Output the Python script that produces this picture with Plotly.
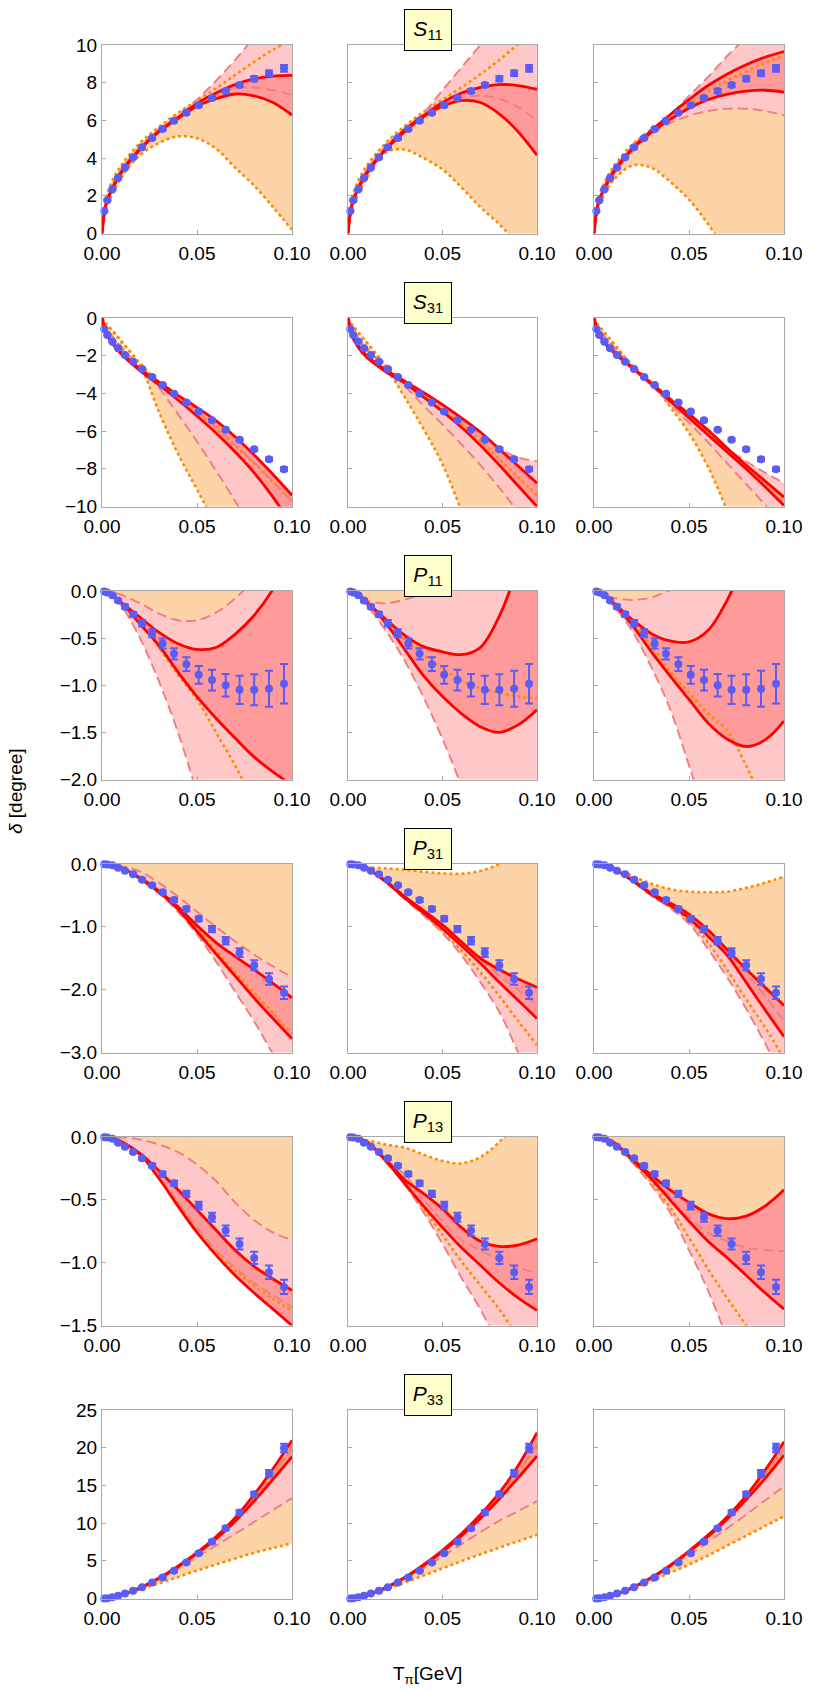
import plotly.graph_objects as go

# ---------------- data ----------------
X_GRID = [0, 0.002, 0.005, 0.01, 0.02, 0.03, 0.04, 0.05, 0.06, 0.07, 0.08, 0.09, 0.1]
X_DATA = [0.0012, 0.0028, 0.0055, 0.0085, 0.0121, 0.0164, 0.0211, 0.0264, 0.0319,
          0.0379, 0.0444, 0.0509, 0.0579, 0.0651, 0.0724, 0.0801, 0.0879, 0.0958]

WAVES = ["S11", "S31", "P11", "P31", "P13", "P33"]
WAVE_LABELS = ["<i>S</i><sub>11</sub>", "<i>S</i><sub>31</sub>", "<i>P</i><sub>11</sub>",
               "<i>P</i><sub>31</sub>", "<i>P</i><sub>13</sub>", "<i>P</i><sub>33</sub>"]
Y_RANGES = [[0, 10], [-10, 0], [-2, 0], [-3, 0], [-1.5, 0], [0, 25]]
Y_TICKS = [[0, 2, 4, 6, 8, 10], [0, -2, -4, -6, -8, -10], [0, -0.5, -1, -1.5, -2],
           [0, -1, -2, -3], [0, -0.5, -1, -1.5], [0, 5, 10, 15, 20, 25]]
Y_FORMATS = ["d", "d", ".1f", ".1f", ".1f", "d"]
X_TICKS = [0, 0.05, 0.1]

# pseudo-data (same in all three columns)
S11_Y = [1.19, 1.77, 2.35, 2.94, 3.50, 4.04, 4.57, 5.06, 5.54, 5.98, 6.41, 6.81, 7.19, 7.56, 7.88, 8.21, 8.50, 8.76]
S11_ERR = [0.03, 0.03, 0.03, 0.04, 0.04, 0.05, 0.05, 0.06, 0.06, 0.07, 0.07, 0.08, 0.09, 0.1, 0.11, 0.13, 0.15, 0.18]
S31_Y = [-0.58, -0.90, -1.26, -1.61, -1.96, -2.32, -2.71, -3.13, -3.56, -4.02, -4.48, -4.96, -5.43, -5.93, -6.46, -6.96, -7.49, -8.02]
S31_ERR = [0.02, 0.02, 0.03, 0.03, 0.03, 0.04, 0.04, 0.04, 0.05, 0.05, 0.05, 0.06, 0.06, 0.07, 0.07, 0.08, 0.09, 0.1]
P11_Y = [-0.005, -0.015, -0.045, -0.10, -0.166, -0.247, -0.342, -0.448, -0.557, -0.667, -0.776, -0.889, -0.945, -1.00, -1.048, -1.048, -1.037, -0.984]
P11_ERR = [0.003, 0.005, 0.008, 0.013, 0.02, 0.025, 0.035, 0.042, 0.053, 0.06, 0.074, 0.094, 0.11, 0.12, 0.15, 0.165, 0.19, 0.21]
P31_Y = [-0.002, -0.006, -0.02, -0.06, -0.106, -0.165, -0.25, -0.34, -0.45, -0.573, -0.717, -0.87, -1.036, -1.22, -1.41, -1.61, -1.83, -2.05]
P31_ERR = [0.005, 0.005, 0.008, 0.01, 0.012, 0.015, 0.018, 0.02, 0.025, 0.03, 0.035, 0.04, 0.05, 0.06, 0.07, 0.08, 0.09, 0.1]
P13_Y = [-0.001, -0.003, -0.013, -0.045, -0.077, -0.12, -0.17, -0.228, -0.294, -0.368, -0.453, -0.546, -0.639, -0.745, -0.851, -0.962, -1.076, -1.193]
P13_ERR = [0.002, 0.003, 0.004, 0.006, 0.008, 0.01, 0.012, 0.015, 0.018, 0.02, 0.025, 0.03, 0.036, 0.041, 0.044, 0.048, 0.053, 0.057]
P33_Y = [0.0, 0.04, 0.18, 0.35, 0.66, 1.02, 1.50, 2.12, 2.78, 3.67, 4.77, 6.0, 7.51, 9.32, 11.4, 13.82, 16.6, 19.96]
P33_ERR = [0.02, 0.02, 0.03, 0.04, 0.05, 0.06, 0.07, 0.08, 0.1, 0.12, 0.14, 0.17, 0.2, 0.24, 0.3, 0.35, 0.45, 0.55]

# bands on X_GRID, one list per column  (ORG = dotted orange, PNK = dashed pink, RED = solid red)
S11_ORG_LO = [[0, 1.3, 2.0, 2.95, 4.15, 4.8, 5.15, 5.05, 4.5, 3.5, 2.55, 1.4, 0.2],
              [0, 1.3, 2.0, 2.95, 4.3, 4.45, 4.0, 3.4, 2.45, 1.4, 0.5, -0.6, -1.9],
              [0, 1.2, 2.0, 2.8, 3.6, 3.5, 2.75, 1.8, 0.5, -1.0, -2.8, -4.8, -7.0]]
S11_ORG_HI = [[0, 1.8, 2.7, 3.6, 4.8, 5.65, 6.4, 7.05, 7.7, 8.4, 9.1, 9.75, 10.3],
              [0, 1.8, 2.7, 3.6, 4.8, 5.7, 6.45, 7.1, 7.75, 8.45, 9.2, 10.05, 10.9],
              [0, 1.7, 2.6, 3.5, 4.7, 5.5, 6.15, 6.8, 7.5, 8.1, 8.6, 9.05, 9.45]]
S11_PNK_LO = [[0, 1.4, 2.2, 3.15, 4.4, 5.35, 6.1, 6.85, 7.35, 7.7, 7.75, 7.6, 7.35],
              [0, 1.4, 2.2, 3.15, 4.4, 5.35, 6.15, 6.85, 7.2, 7.3, 7.15, 6.7, 6.0],
              [0, 1.4, 2.2, 3.1, 4.3, 5.25, 5.85, 6.25, 6.5, 6.62, 6.62, 6.5, 6.28]]
S11_PNK_HI = [[0, 1.6, 2.4, 3.35, 4.6, 5.5, 6.25, 7.1, 8.1, 9.2, 10.4, 11.6, 12.8],
              [0, 1.6, 2.4, 3.35, 4.6, 5.55, 6.4, 7.6, 8.8, 10.0, 11.2, 12.4, 13.6],
              [0, 1.6, 2.4, 3.35, 4.6, 5.5, 6.3, 7.3, 8.3, 9.4, 10.4, 11.4, 12.4]]
S11_RED_LO = [[0, 1.5, 2.3, 3.2, 4.45, 5.4, 6.1, 6.75, 7.15, 7.4, 7.3, 6.95, 6.28],
              [0, 1.5, 2.3, 3.2, 4.45, 5.4, 6.2, 6.75, 7.05, 6.95, 6.35, 5.4, 4.15],
              [0, 1.5, 2.3, 3.2, 4.45, 5.35, 6.05, 6.65, 7.1, 7.38, 7.55, 7.6, 7.5]]
S11_RED_HI = [[0, 1.5, 2.3, 3.25, 4.5, 5.45, 6.15, 6.9, 7.45, 7.9, 8.2, 8.35, 8.39],
              [0, 1.5, 2.3, 3.25, 4.5, 5.5, 6.25, 6.95, 7.45, 7.75, 7.9, 7.85, 7.65],
              [0, 1.5, 2.3, 3.25, 4.5, 5.45, 6.3, 7.1, 7.85, 8.45, 8.95, 9.35, 9.65]]

S31_ORG_LO = [[0, -0.3, -0.65, -1.25, -2.5, -5.0, -7.2, -9.1, -11.0, -13.0, -15.0, -17.0, -19.0],
              [0, -0.35, -0.75, -1.35, -2.6, -4.2, -5.9, -7.75, -10.2, -12.5, -15.0, -17.5, -20.0],
              [0, -0.35, -0.75, -1.35, -2.5, -3.4, -4.7, -6.1, -7.9, -10.2, -12.8, -15.5, -18.5]]
S31_ORG_HI = [[0, -0.3, -0.6, -1.2, -2.4, -3.4, -4.25, -5.0, -5.85, -6.75, -7.7, -8.7, -9.7],
              [0, -0.35, -0.7, -1.3, -2.5, -3.45, -4.15, -4.85, -5.6, -6.5, -7.5, -8.45, -9.4],
              [0, -0.35, -0.7, -1.3, -2.5, -3.45, -4.35, -5.2, -6.05, -6.95, -7.85, -8.7, -9.55]]
S31_PNK_LO = [[0, -0.5, -0.95, -1.6, -2.55, -3.7, -5.1, -6.55, -8.1, -9.7, -11.4, -13.2, -15.0],
              [0, -0.5, -1.0, -1.7, -2.6, -3.6, -4.65, -5.65, -6.7, -7.8, -9.0, -10.3, -11.7],
              [0, -0.5, -0.95, -1.6, -2.6, -3.55, -4.55, -5.55, -6.6, -7.7, -8.8, -9.9, -11.0]]
S31_PNK_HI = [[0, -0.45, -0.9, -1.5, -2.6, -3.45, -4.2, -4.95, -5.8, -6.7, -7.65, -8.65, -9.75],
              [0, -0.5, -1.0, -1.6, -2.6, -3.35, -4.0, -4.65, -5.4, -6.15, -6.9, -7.4, -7.6],
              [0, -0.45, -0.9, -1.5, -2.5, -3.4, -4.25, -5.05, -5.95, -6.9, -7.6, -8.2, -8.76]]
S31_RED_LO = [[0, -0.8, -1.3, -1.9, -2.8, -3.55, -4.35, -5.2, -6.1, -7.1, -8.2, -9.5, -11.0],
              [0, -0.9, -1.5, -2.1, -2.85, -3.45, -4.2, -4.95, -5.8, -6.75, -7.8, -8.9, -10.0],
              [0, -0.75, -1.25, -1.8, -2.65, -3.5, -4.4, -5.3, -6.2, -7.1, -8.0, -8.95, -9.95]]
S31_RED_HI = [[0, -0.7, -1.2, -1.8, -2.7, -3.4, -4.1, -4.75, -5.45, -6.3, -7.25, -8.3, -9.4],
              [0, -0.8, -1.4, -2.0, -2.75, -3.35, -3.95, -4.6, -5.3, -6.05, -6.95, -7.85, -8.76],
              [0, -0.7, -1.2, -1.75, -2.6, -3.45, -4.3, -5.1, -5.95, -6.9, -7.8, -8.65, -9.5]]

P11_ORG_LO = [[0, -0.01, -0.04, -0.13, -0.34, -0.6, -0.89, -1.15, -1.5, -1.85, -2.25, -2.65, -3.05],
              [0, -0.01, -0.04, -0.12, -0.33, -0.52, -0.68, -0.82, -0.95, -1.03, -1.08, -1.12, -1.14],
              [0, -0.01, -0.04, -0.12, -0.33, -0.58, -0.85, -1.08, -1.3, -1.48, -1.85, -2.3, -2.8]]
P11_ORG_HI = [[0, 0.01, 0.03, 0.1, 0.3, 0.55, 0.85, 1.2, 1.6, 2.0, 2.5, 3.0, 3.5],
              [0, 0.01, 0.03, 0.1, 0.3, 0.55, 0.85, 1.2, 1.6, 2.0, 2.5, 3.0, 3.5],
              [0, 0.01, 0.03, 0.1, 0.3, 0.55, 0.85, 1.2, 1.6, 2.0, 2.5, 3.0, 3.5]]
P11_PNK_LO = [[0, -0.012, -0.05, -0.15, -0.5, -0.96, -1.5, -2.15, -2.9, -3.7, -4.6, -5.5, -6.5],
              [0, -0.012, -0.05, -0.15, -0.42, -0.74, -1.13, -1.57, -2.07, -2.65, -3.3, -4.0, -4.7],
              [0, -0.012, -0.05, -0.15, -0.42, -0.8, -1.25, -1.85, -2.5, -3.2, -4.0, -4.8, -5.6]]
P11_PNK_HI = [[0, -0.002, -0.01, -0.04, -0.13, -0.24, -0.31, -0.31, -0.23, -0.08, 0.12, 0.35, 0.62],
              [0, -0.01, -0.05, -0.1, -0.13, -0.09, -0.03, 0.05, 0.15, 0.3, 0.5, 0.7, 0.95],
              [0, -0.008, -0.03, -0.07, -0.095, -0.07, 0.01, 0.1, 0.22, 0.36, 0.52, 0.7, 0.9]]
P11_RED_LO = [[0, -0.01, -0.04, -0.12, -0.35, -0.58, -0.86, -1.12, -1.35, -1.56, -1.76, -1.92, -2.06],
              [0, -0.01, -0.04, -0.12, -0.34, -0.62, -0.9, -1.12, -1.3, -1.44, -1.5, -1.42, -1.26],
              [0, -0.01, -0.04, -0.13, -0.36, -0.64, -0.9, -1.15, -1.4, -1.57, -1.65, -1.58, -1.38]]
P11_RED_HI = [[0, -0.01, -0.04, -0.12, -0.28, -0.44, -0.56, -0.62, -0.6, -0.46, -0.26, 0.02, 0.4],
              [0, -0.01, -0.04, -0.12, -0.3, -0.47, -0.59, -0.645, -0.675, -0.6, -0.27, 0.25, 0.8],
              [0, -0.01, -0.04, -0.12, -0.3, -0.45, -0.53, -0.54, -0.42, -0.1, 0.35, 0.9, 1.5]]

P31_ORG_LO = [[0, -0.003, -0.015, -0.06, -0.22, -0.44, -0.7, -1.02, -1.38, -1.72, -2.05, -2.37, -2.7],
              [0, -0.003, -0.015, -0.07, -0.28, -0.54, -0.8, -1.07, -1.38, -1.72, -2.1, -2.5, -2.88],
              [0, -0.003, -0.015, -0.07, -0.26, -0.49, -0.68, -0.9, -1.25, -1.68, -2.15, -2.6, -3.1]]
P31_ORG_HI = [[0, 0.01, 0.03, 0.08, 0.2, 0.35, 0.5, 0.7, 0.9, 1.1, 1.3, 1.5, 1.7],
              [0, -0.004, -0.02, -0.05, -0.07, -0.09, -0.125, -0.15, -0.155, -0.11, 0.0, 0.17, 0.4],
              [0, -0.003, -0.015, -0.05, -0.19, -0.31, -0.4, -0.44, -0.45, -0.44, -0.38, -0.3, -0.2]]
P31_PNK_LO = [[0, -0.003, -0.016, -0.065, -0.24, -0.47, -0.76, -1.12, -1.55, -2.03, -2.5, -3.03, -3.6],
              [0, -0.003, -0.016, -0.075, -0.29, -0.56, -0.82, -1.1, -1.45, -1.88, -2.35, -3.0, -3.7],
              [0, -0.003, -0.016, -0.075, -0.27, -0.5, -0.7, -0.95, -1.35, -1.8, -2.3, -2.85, -3.45]]
P31_PNK_HI = [[0, -0.002, -0.008, -0.03, -0.12, -0.3, -0.52, -0.76, -1.0, -1.23, -1.44, -1.63, -1.8],
              [0, -0.003, -0.015, -0.07, -0.27, -0.52, -0.76, -1.0, -1.26, -1.52, -1.78, -2.0, -2.25],
              [0, -0.003, -0.015, -0.07, -0.25, -0.47, -0.64, -0.84, -1.1, -1.4, -1.74, -2.1, -2.5]]
P31_RED_LO = [[0, -0.003, -0.015, -0.06, -0.23, -0.45, -0.72, -1.07, -1.43, -1.78, -2.13, -2.46, -2.78],
              [0, -0.003, -0.015, -0.07, -0.28, -0.54, -0.78, -1.03, -1.3, -1.58, -1.88, -2.17, -2.46],
              [0, -0.003, -0.015, -0.07, -0.26, -0.48, -0.66, -0.86, -1.15, -1.45, -1.88, -2.32, -2.75]]
P31_RED_HI = [[0, -0.003, -0.015, -0.06, -0.22, -0.43, -0.68, -0.98, -1.25, -1.47, -1.68, -1.9, -2.13],
              [0, -0.003, -0.015, -0.07, -0.27, -0.52, -0.74, -0.97, -1.24, -1.5, -1.68, -1.83, -1.96],
              [0, -0.003, -0.015, -0.07, -0.25, -0.46, -0.62, -0.8, -1.05, -1.36, -1.67, -1.96, -2.25]]

P13_ORG_LO = [[0, -0.001, -0.007, -0.035, -0.14, -0.32, -0.53, -0.74, -0.92, -1.06, -1.18, -1.29, -1.38],
              [0, -0.001, -0.007, -0.04, -0.19, -0.37, -0.57, -0.78, -0.99, -1.18, -1.37, -1.6, -1.85],
              [0, -0.001, -0.007, -0.04, -0.19, -0.35, -0.56, -0.8, -1.05, -1.28, -1.5, -1.75, -2.0]]
P13_ORG_HI = [[0, 0.005, 0.02, 0.05, 0.15, 0.3, 0.45, 0.6, 0.8, 1.0, 1.2, 1.4, 1.6],
              [0, -0.001, -0.005, -0.025, -0.06, -0.085, -0.14, -0.19, -0.21, -0.16, -0.04, 0.13, 0.35],
              [0, 0.005, 0.02, 0.05, 0.15, 0.3, 0.45, 0.6, 0.8, 1.0, 1.2, 1.4, 1.6]]
P13_PNK_LO = [[0, -0.001, -0.007, -0.035, -0.14, -0.32, -0.52, -0.72, -0.9, -1.04, -1.16, -1.26, -1.35],
              [0, -0.001, -0.008, -0.045, -0.2, -0.38, -0.6, -0.85, -1.12, -1.37, -1.67, -1.98, -2.3],
              [0, -0.001, -0.008, -0.045, -0.2, -0.38, -0.6, -0.9, -1.22, -1.6, -2.0, -2.4, -2.8]]
P13_PNK_HI = [[0, 0, -0.001, -0.003, -0.02, -0.06, -0.12, -0.22, -0.35, -0.52, -0.66, -0.76, -0.82],
              [0, -0.001, -0.007, -0.04, -0.18, -0.3, -0.5, -0.67, -0.82, -0.9, -0.98, -1.04, -1.08],
              [0, -0.001, -0.007, -0.04, -0.17, -0.31, -0.48, -0.64, -0.76, -0.83, -0.88, -0.9, -0.91]]
P13_RED_LO = [[0, -0.001, -0.007, -0.035, -0.14, -0.33, -0.55, -0.76, -0.94, -1.1, -1.24, -1.37, -1.5],
              [0, -0.001, -0.007, -0.04, -0.19, -0.37, -0.55, -0.72, -0.88, -1.02, -1.16, -1.28, -1.38],
              [0, -0.001, -0.007, -0.04, -0.18, -0.33, -0.5, -0.67, -0.83, -0.96, -1.1, -1.24, -1.37]]
P13_RED_HI = [[0, -0.001, -0.007, -0.035, -0.13, -0.27, -0.42, -0.58, -0.74, -0.9, -1.03, -1.13, -1.22],
              [0, -0.001, -0.007, -0.04, -0.18, -0.34, -0.45, -0.57, -0.72, -0.83, -0.87, -0.86, -0.81],
              [0, -0.001, -0.007, -0.04, -0.17, -0.3, -0.42, -0.52, -0.61, -0.65, -0.63, -0.55, -0.42]]

P33_ORG_LO = [[0, 0.02, 0.1, 0.42, 1.2, 2.0, 2.85, 3.7, 4.5, 5.3, 6.05, 6.7, 7.35],
              [0, 0.02, 0.1, 0.4, 1.2, 2.1, 3.05, 4.0, 4.95, 5.85, 6.75, 7.6, 8.45],
              [0, 0.02, 0.11, 0.45, 1.3, 2.3, 3.4, 4.5, 5.7, 7.0, 8.3, 9.6, 10.9]]
P33_ORG_HI = [[0, 0.02, 0.12, 0.45, 1.42, 2.7, 4.25, 6.0, 8.0, 10.4, 13.2, 16.4, 20.0],
              [0, 0.02, 0.12, 0.45, 1.43, 2.78, 4.4, 6.3, 8.45, 10.85, 13.55, 16.7, 20.3],
              [0, 0.02, 0.12, 0.45, 1.41, 2.72, 4.35, 6.25, 8.3, 10.6, 13.3, 16.4, 19.8]]
P33_PNK_LO = [[0, 0.02, 0.11, 0.42, 1.35, 2.5, 3.9, 5.5, 7.0, 8.55, 10.15, 11.75, 13.3],
              [0, 0.02, 0.11, 0.42, 1.35, 2.6, 4.0, 5.6, 7.2, 8.8, 10.3, 11.6, 12.9],
              [0, 0.02, 0.11, 0.43, 1.38, 2.7, 4.2, 5.8, 7.5, 9.3, 11.1, 13.0, 14.85]]
P33_PNK_HI = [[0, 0.02, 0.12, 0.45, 1.42, 2.7, 4.25, 6.0, 8.05, 10.45, 13.3, 16.5, 19.9],
              [0, 0.02, 0.12, 0.45, 1.43, 2.78, 4.4, 6.3, 8.45, 10.85, 13.6, 16.8, 20.5],
              [0, 0.02, 0.12, 0.45, 1.41, 2.72, 4.35, 6.25, 8.3, 10.65, 13.35, 16.45, 19.9]]
P33_RED_LO = [[0, 0.02, 0.12, 0.45, 1.4, 2.65, 4.2, 5.95, 7.9, 10.2, 12.9, 15.8, 18.8],
              [0, 0.02, 0.12, 0.45, 1.42, 2.75, 4.35, 6.2, 8.3, 10.6, 13.2, 16.0, 18.9],
              [0, 0.02, 0.12, 0.45, 1.4, 2.7, 4.3, 6.2, 8.2, 10.5, 13.1, 15.9, 19.0]]
P33_RED_HI = [[0, 0.02, 0.12, 0.45, 1.42, 2.72, 4.3, 6.1, 8.2, 10.7, 13.75, 17.2, 21.0],
              [0, 0.02, 0.12, 0.45, 1.45, 2.8, 4.5, 6.4, 8.6, 11.1, 14.0, 17.6, 22.0],
              [0, 0.02, 0.12, 0.45, 1.42, 2.75, 4.4, 6.3, 8.4, 10.8, 13.6, 17.0, 20.8]]

DATA_Y = [S11_Y, S31_Y, P11_Y, P31_Y, P13_Y, P33_Y]
DATA_ERR = [S11_ERR, S31_ERR, P11_ERR, P31_ERR, P13_ERR, P33_ERR]
BANDS = [
    (S11_ORG_LO, S11_ORG_HI, S11_PNK_LO, S11_PNK_HI, S11_RED_LO, S11_RED_HI),
    (S31_ORG_LO, S31_ORG_HI, S31_PNK_LO, S31_PNK_HI, S31_RED_LO, S31_RED_HI),
    (P11_ORG_LO, P11_ORG_HI, P11_PNK_LO, P11_PNK_HI, P11_RED_LO, P11_RED_HI),
    (P31_ORG_LO, P31_ORG_HI, P31_PNK_LO, P31_PNK_HI, P31_RED_LO, P31_RED_HI),
    (P13_ORG_LO, P13_ORG_HI, P13_PNK_LO, P13_PNK_HI, P13_RED_LO, P13_RED_HI),
    (P33_ORG_LO, P33_ORG_HI, P33_PNK_LO, P33_PNK_HI, P33_RED_LO, P33_RED_HI),
]

# ---------------- styling / layout ----------------
W, H = 819, 1692
COLS_PX = [(102, 292), (348, 537), (594, 784)]
ROW_TOPS = [45, 318, 591, 864, 1137, 1410]
ROW_H = 188.5

ORG_FILL = "#FDD3A8"
PNK_FILL = "#FFC8C8"
RED_FILL = "#FF9A9A"
ORG_LINE = dict(color="#FF8C00", width=2.6, dash="3px,3px", shape="spline")
PNK_LINE = dict(color="#F08080", width=2.0, dash="10px,5px", shape="spline")
RED_LINE = dict(color="#FF0000", width=2.8, shape="spline")
BLUE = "#5A5CF5"
FONT = "Liberation Sans, Arial, sans-serif"
AXIS_COL = "#A8A8A8"

fig = go.Figure()
layout = dict(width=W, height=H, margin=dict(l=0, r=0, t=0, b=0),
              paper_bgcolor="white", plot_bgcolor="white", showlegend=False,
              font=dict(family=FONT, size=19, color="black"), annotations=[])

for r in range(6):
    for c in range(3):
        n = r * 3 + c + 1
        xa = "x" if n == 1 else f"x{n}"
        ya = "y" if n == 1 else f"y{n}"
        xl = "xaxis" if n == 1 else f"xaxis{n}"
        yl = "yaxis" if n == 1 else f"yaxis{n}"
        l_px, r_px = COLS_PX[c]
        t_px = ROW_TOPS[r]
        b_px = t_px + ROW_H
        layout[xl] = dict(domain=[l_px / W, r_px / W], anchor=ya, range=[0, 0.1],
                          tickvals=X_TICKS, tickformat=".2f", ticks="inside", ticklen=4,
                          tickcolor=AXIS_COL, showline=True, mirror=True, linecolor=AXIS_COL,
                          linewidth=1, showgrid=False, zeroline=False, automargin=False,
                          ticklabelstandoff=3,
                          tickfont=dict(size=19, family=FONT, color="black"))
        layout[yl] = dict(domain=[1 - b_px / H, 1 - t_px / H], anchor=xa, range=Y_RANGES[r],
                          tickvals=Y_TICKS[r], tickformat=Y_FORMATS[r], ticks="inside", ticklen=4,
                          tickcolor=AXIS_COL, showline=True, mirror=True, linecolor=AXIS_COL,
                          linewidth=1, showgrid=False, zeroline=False, automargin=False,
                          showticklabels=(c == 0),
                          tickfont=dict(size=19, family=FONT, color="black"))

        olo, ohi, plo, phi, rlo, rhi = [b[c] for b in BANDS[r]]
        # fills
        for lo, hi, col in ((olo, ohi, ORG_FILL), (plo, phi, PNK_FILL), (rlo, rhi, RED_FILL)):
            fig.add_trace(go.Scatter(x=X_GRID, y=lo, mode="lines", xaxis=xa, yaxis=ya,
                                     line=dict(width=0, shape="spline"), hoverinfo="skip"))
            fig.add_trace(go.Scatter(x=X_GRID, y=hi, mode="lines", xaxis=xa, yaxis=ya,
                                     line=dict(width=0, shape="spline"), fill="tonexty",
                                     fillcolor=col, hoverinfo="skip"))
        # boundary lines
        for yy, ln in ((olo, ORG_LINE), (ohi, ORG_LINE), (plo, PNK_LINE), (phi, PNK_LINE),
                       (rlo, RED_LINE), (rhi, RED_LINE)):
            fig.add_trace(go.Scatter(x=X_GRID, y=yy, mode="lines", xaxis=xa, yaxis=ya,
                                     line=ln, hoverinfo="skip"))
        # data
        fig.add_trace(go.Scatter(x=X_DATA, y=DATA_Y[r], mode="markers", xaxis=xa, yaxis=ya,
                                 marker=dict(color=BLUE, size=8),
                                 error_y=dict(type="data", array=DATA_ERR[r], color=BLUE,
                                              thickness=2, width=4),
                                 cliponaxis=False))

    # wave label box over the middle column
    layout["annotations"].append(dict(
        text=WAVE_LABELS[r], xref="paper", yref="paper",
        x=427.5 / W, y=1 - (ROW_TOPS[r] - 15) / H, xanchor="center", yanchor="middle",
        showarrow=False, bgcolor="#FFFFCC", bordercolor="black", borderwidth=1,
        width=44, height=38, borderpad=1, font=dict(size=21, family=FONT, color="black")))

layout["annotations"].append(dict(
    text="<i>δ</i> [degree]", xref="paper", yref="paper", x=15 / W, y=1 - 791 / H,
    xanchor="center", yanchor="middle", textangle=-90, showarrow=False,
    font=dict(size=19, family=FONT, color="black")))
layout["annotations"].append(dict(
    text="T<sub>π</sub>[GeV]", xref="paper", yref="paper", x=427 / W, y=1 - 1675 / H,
    xanchor="center", yanchor="middle", showarrow=False,
    font=dict(size=19, family=FONT, color="black")))

fig.update_layout(**layout)
fig.write_html("out.html")
